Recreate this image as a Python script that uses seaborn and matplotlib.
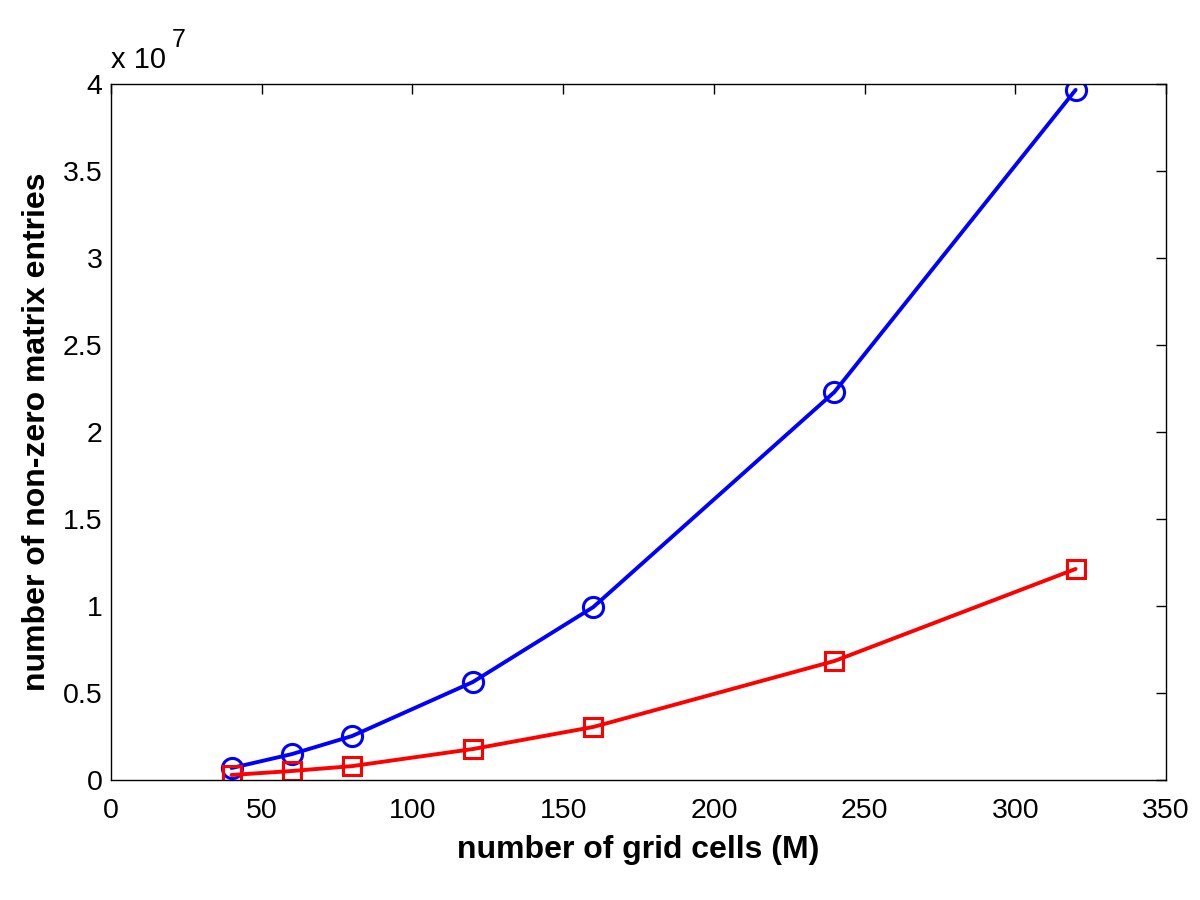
import matplotlib
matplotlib.use("Agg")
import matplotlib.pyplot as plt
import seaborn as sns
from matplotlib.ticker import FuncFormatter, MultipleLocator

# data
grid_cells = [40, 60, 80, 120, 160, 240, 320]
nnz_full = [0.069e7, 0.149e7, 0.253e7, 0.563e7, 0.994e7, 2.23e7, 3.966e7]
nnz_reduced = [0.029e7, 0.052e7, 0.080e7, 0.178e7, 0.305e7, 0.684e7, 1.213e7]

sns.set_style("white")
plt.rcParams['font.family'] = ['Liberation Sans', 'DejaVu Sans']
plt.rcParams['text.color'] = 'black'
plt.rcParams['axes.labelcolor'] = 'black'
plt.rcParams['xtick.color'] = 'black'
plt.rcParams['ytick.color'] = 'black'

fig = plt.figure(figsize=(12, 9), dpi=100)
ax = fig.add_axes([0.0925, 0.1333, 0.8792, 0.7734])

sns.lineplot(x=grid_cells, y=nnz_full, ax=ax, color='blue', linewidth=2.8,
             marker='o', markersize=14.5, markerfacecolor='none',
             markeredgecolor='blue', markeredgewidth=2.2)
sns.lineplot(x=grid_cells, y=nnz_reduced, ax=ax, color='red', linewidth=2.8,
             marker='s', markersize=13, markerfacecolor='none',
             markeredgecolor='red', markeredgewidth=2.2)

ax.set_xlim(0, 350)
ax.set_ylim(0, 4e7)
ax.xaxis.set_major_locator(MultipleLocator(50))
ax.yaxis.set_major_locator(MultipleLocator(0.5e7))
ax.yaxis.set_major_formatter(FuncFormatter(lambda v, p: '%g' % (v / 1e7)))

ax.tick_params(direction='in', length=7.5, width=1, labelsize=20.5,
               top=True, right=True)
ax.tick_params(axis='x', pad=13)
ax.tick_params(axis='y', pad=6)
for s in ax.spines.values():
    s.set_visible(True)
    s.set_color('black')
    s.set_linewidth(1)

ax.set_xlabel('number of grid cells (M)', fontsize=23, fontweight='bold', labelpad=8)
ax.set_ylabel('number of non-zero matrix entries', fontsize=23, fontweight='bold', labelpad=8)

ax.text(0.0, 1.014, 'x 10', transform=ax.transAxes, fontsize=21,
        ha='left', va='bottom')
ax.text(0.058, 1.046, '7', transform=ax.transAxes, fontsize=18,
        ha='left', va='bottom')

fig.savefig('out.png', dpi=100)
